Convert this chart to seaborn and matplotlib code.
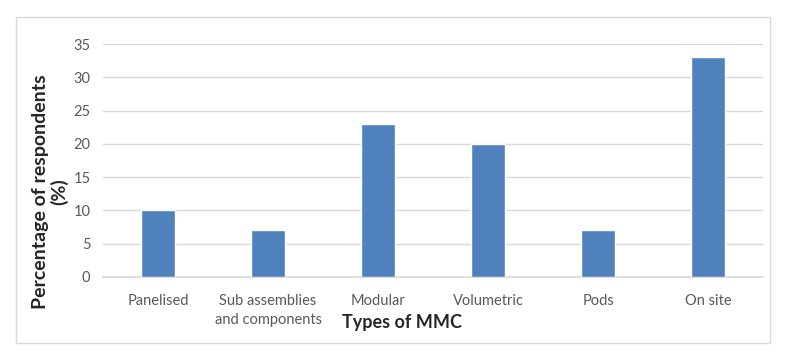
"""Bar chart of the types of MMC used by respondents."""

import matplotlib.pyplot as plt
from matplotlib.patches import Rectangle
import pandas as pd
import seaborn as sns

categories = ["Panelised", "Sub assemblies\nand components", "Modular",
              "Volumetric", "Pods", "On site"]
percentages = [10, 7, 23, 20, 7, 33]
yticks = [0, 5, 10, 15, 20, 25, 30, 35]

sns.set_theme(style="white")
plt.rcParams['font.family'] = ['Lato', 'DejaVu Sans']

dfrm = pd.DataFrame({'mmc': categories, 'perc': percentages})

fig = plt.figure(figsize=(7.86, 3.56), dpi=100)
ax = fig.add_axes([0.131, 0.222, 0.840, 0.654])
sns.barplot(x='mmc', y='perc', data=dfrm, color='#4f81bd', width=0.31,
            saturation=1, ax=ax, zorder=3)

ax.set_ylim(0, 35)
ax.set_yticks(yticks)
ax.set_xlim(-0.5, len(categories) - 0.5)
ax.grid(axis='y', color='#d9d9d9', linewidth=1.0, zorder=0)
for side in ['top', 'right', 'left']:
    ax.spines[side].set_visible(False)
ax.spines['bottom'].set_color('#d9d9d9')
ax.tick_params(axis='both', length=0, labelsize=10.5, labelcolor='#595959')
ax.tick_params(axis='x', pad=12)
ax.tick_params(axis='y', pad=9)
for lbl in ax.get_xticklabels():
    lbl.set_linespacing(1.45)

ax.set_xlabel("")
ax.set_ylabel("")
# y title sits a bit below the axis centre in the original
fig.text(0.064, 0.462, "Percentage of respondents\n(%)", fontsize=14,
         fontweight='bold', rotation=90, ha='center', va='center',
         linespacing=1.1)
fig.text(0.511, 0.095, "Types of MMC", fontsize=13, fontweight='bold',
         ha='center', va='center')

# light frame around the whole chart
fig.patches.append(Rectangle((16 / 786, 1 - 343 / 356), 754 / 786, 326 / 356,
                             transform=fig.transFigure, fill=False,
                             edgecolor='#d9d9d9', linewidth=1.0))

fig.savefig("out.png", dpi=100)
